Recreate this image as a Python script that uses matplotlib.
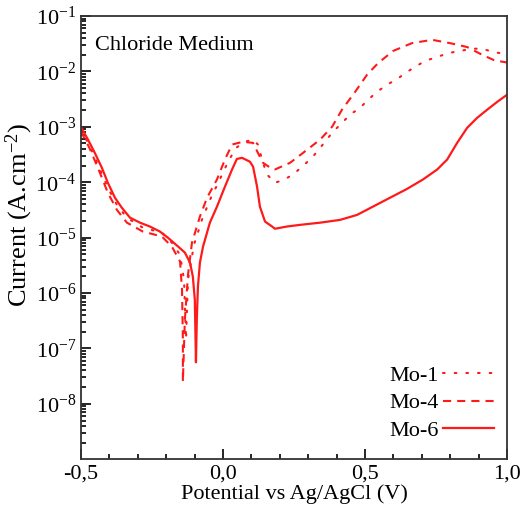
import matplotlib
matplotlib.use("Agg")
import matplotlib.pyplot as plt
from matplotlib.ticker import MultipleLocator, LogLocator, FixedLocator, NullFormatter

plt.rcParams['font.family'] = ['Liberation Serif', 'DejaVu Serif']
plt.rcParams['mathtext.fontset'] = 'custom'
plt.rcParams['mathtext.rm'] = 'Liberation Serif'
plt.rcParams['mathtext.it'] = 'Liberation Serif:italic'

# potential (V) and log10(current)
mo6_x = [-0.5, -0.475, -0.451, -0.426, -0.405, -0.380, -0.356, -0.327, -0.292, -0.257, -0.222,
         -0.194, -0.158, -0.134, -0.116, -0.106, -0.099, -0.095, -0.092, -0.088, -0.081, -0.070,
         -0.046, -0.021, 0.007, 0.032, 0.049, 0.067, 0.095, 0.106, 0.120, 0.130, 0.148, 0.173,
         0.183, 0.225, 0.271, 0.342, 0.412, 0.472, 0.528, 0.588, 0.648, 0.704, 0.754, 0.789,
         0.824, 0.859, 0.894, 0.930, 0.965, 1.0]
mo6_log = [-3.0, -3.23, -3.47, -3.74, -4.01, -4.28, -4.46, -4.64, -4.73, -4.80, -4.89,
           -5.0, -5.16, -5.27, -5.45, -5.70, -6.12, -7.25, -6.48, -5.88, -5.45, -5.16,
           -4.73, -4.44, -4.08, -3.77, -3.58, -3.56, -3.63, -3.72, -4.08, -4.44, -4.71, -4.80,
           -4.84, -4.80, -4.77, -4.73, -4.68, -4.59, -4.44, -4.28, -4.12, -3.95, -3.77, -3.59,
           -3.29, -3.02, -2.84, -2.69, -2.55, -2.42]

mo4_x = [-0.5, -0.470, -0.440, -0.405, -0.373, -0.338, -0.282, -0.215, -0.180, -0.151, -0.144,
         -0.141, -0.141, -0.134, -0.123, -0.109, -0.081, -0.056, -0.021, 0.007, 0.032, 0.070,
         0.106, 0.123, 0.141, 0.173, 0.183, 0.236, 0.282, 0.342, 0.384, 0.419, 0.465, 0.507,
         0.546, 0.599, 0.665, 0.736, 0.799, 0.859, 0.912, 0.955, 1.0]
mo4_log = [-3.08, -3.38, -3.74, -4.19, -4.50, -4.73, -4.89, -4.98, -5.16, -5.43, -5.94,
           -6.84, -7.6, -6.48, -5.67, -5.09, -4.62, -4.28, -3.95, -3.59, -3.32, -3.27,
           -3.29, -3.47, -3.65, -3.76, -3.77, -3.65, -3.47, -3.23, -3.0, -2.69, -2.37, -2.06,
           -1.85, -1.63, -1.49, -1.43, -1.49, -1.56, -1.70, -1.80, -1.84]

mo1_x = [-0.5, -0.470, -0.440, -0.405, -0.373, -0.338, -0.282, -0.215, -0.180, -0.151, -0.137,
         -0.130, -0.123, -0.102, -0.074, -0.046, -0.011, 0.018, 0.046, 0.077, 0.106, 0.123,
         0.130, 0.141, 0.155, 0.183, 0.218, 0.254, 0.313, 0.342, 0.387, 0.419, 0.447, 0.482,
         0.511, 0.542, 0.577, 0.613, 0.641, 0.676, 0.711, 0.754, 0.792, 0.835, 0.877, 0.912,
         0.951, 1.0]
mo1_log = [-3.04, -3.34, -3.68, -4.10, -4.41, -4.64, -4.82, -4.91, -5.09, -5.31, -5.76,
           -6.84, -5.76, -5.13, -4.68, -4.32, -3.95, -3.63, -3.38, -3.27, -3.23, -3.32,
           -3.45, -3.65, -3.86, -4.01, -3.95, -3.83, -3.56, -3.38, -3.09, -2.93, -2.78, -2.66,
           -2.51, -2.37, -2.24, -2.14, -2.03, -1.92, -1.81, -1.74, -1.67, -1.63, -1.59, -1.59,
           -1.65, -1.69]

x_ticks = [-0.5, 0.0, 0.5, 1.0]
x_labels = ['-0,5', '0,0', '0,5', '1,0']
y_exps = [-8, -7, -6, -5, -4, -3, -2, -1]

red = '#ff1a1a'

fig = plt.figure(figsize=(5.25, 5.16), dpi=100)
ax = fig.add_axes([0.154, 0.110, 0.812, 0.859])

ax.plot(mo1_x, [10 ** v for v in mo1_log], color=red, lw=1.5, linestyle=(0, (0.8, 4.8)),
        dash_capstyle='round', label='Mo-1')
ax.plot(mo4_x, [10 ** v for v in mo4_log], color=red, lw=1.5, linestyle=(0, (3.9, 2.9)), label='Mo-4')
ax.plot(mo6_x, [10 ** v for v in mo6_log], color=red, lw=1.6, label='Mo-6')

ax.set_yscale('log')
ax.set_xlim(-0.5, 1.0)
ax.set_ylim(1e-9, 1e-1)

ax.xaxis.set_major_locator(FixedLocator(x_ticks))
ax.set_xticklabels(x_labels)
ax.xaxis.set_minor_locator(MultipleLocator(0.1))
ax.yaxis.set_major_locator(FixedLocator([10.0 ** e for e in y_exps]))
ax.set_yticklabels(['$10^{%d}$' % e for e in y_exps])
ax.yaxis.set_minor_locator(LogLocator(base=10, subs=range(2, 10), numticks=20))
ax.yaxis.set_minor_formatter(NullFormatter())

ax.tick_params(which='both', direction='in', top=False, right=False, labelsize=16, width=1.2)
ax.tick_params(which='major', length=7)
ax.tick_params(which='minor', length=3.5)
for s in ax.spines.values():
    s.set_linewidth(1.3)
    s.set_color('#333333')

ax.set_xlabel('Potential vs Ag/AgCl (V)', fontsize=16, labelpad=1)
ax.set_ylabel('Current (A.cm$^{-2}$)', fontsize=19)
ax.yaxis.set_label_coords(-0.108, 0.55)

ax.text(0.033, 0.955, 'Chloride Medium', transform=ax.transAxes, fontsize=16, va='top', ha='left')

ax.legend(loc='lower right', frameon=False, markerfirst=False, fontsize=16, handlelength=2.3,
          handletextpad=0.2, labelspacing=0.3, borderaxespad=0.2, bbox_to_anchor=(1.0, 0.012))

fig.savefig('out.png', dpi=100)
